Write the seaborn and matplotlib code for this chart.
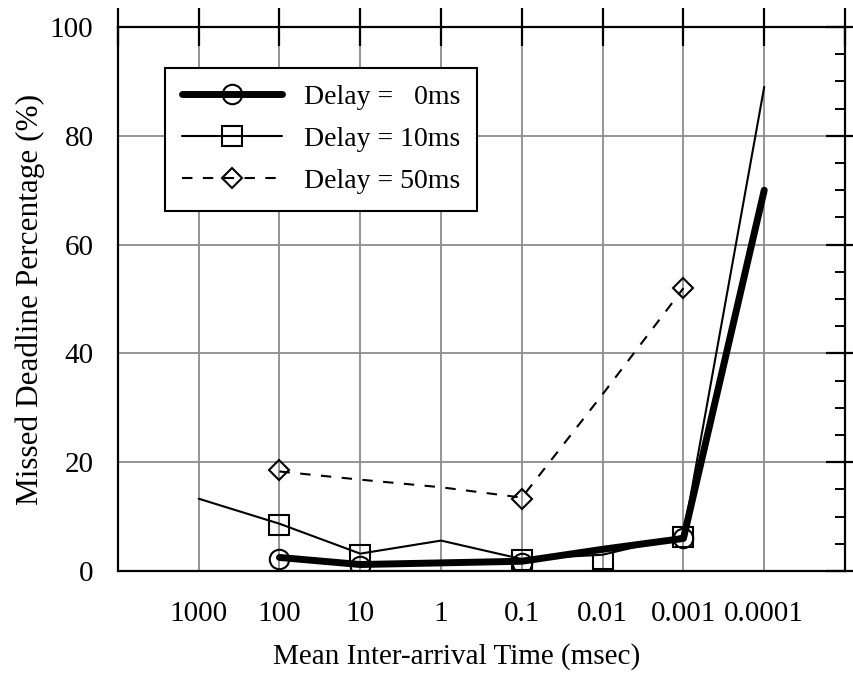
import numpy as np
import pandas as pd
import matplotlib
matplotlib.use('Agg')
import matplotlib.pyplot as plt
from matplotlib.lines import Line2D
from matplotlib.ticker import FixedLocator, MultipleLocator, NullLocator
import seaborn as sns

# x positions (mean inter-arrival time, msec)
x_ticks = [1e4, 1000, 100, 10, 1, 0.1, 0.01, 0.001, 0.0001, 1e-5]
x_labels = ['', '1000', '100', '10', '1', '0.1', '0.01', '0.001', '0.0001', '']

# line values
x_d0 = [100, 10, 1, 0.1, 0.01, 0.001, 0.0001]
y_d0 = [2.5, 1.2, 1.5, 1.8, 4.0, 6.0, 70.0]
x_d10 = [1000, 100, 10, 1, 0.1, 0.01, 0.001, 0.0001]
y_d10 = [13.3, 8.7, 3.2, 5.6, 2.2, 3.0, 6.5, 89.0]
x_d50 = [100, 10, 1, 0.1, 0.01, 0.001]
y_d50 = [18.3, 16.8, 15.4, 13.5, 32.5, 52.0]

# marker values (measured points)
mx_d0 = [100, 10, 0.1, 0.001]
my_d0 = [2.3, 1.0, 1.5, 6.0]
mx_d10 = [100, 10, 0.1, 0.01, 0.001]
my_d10 = [8.5, 3.0, 2.0, 2.3, 6.2]
mx_d50 = [100, 0.1, 0.001]
my_d50 = [18.5, 13.3, 52.0]

labels = ['Delay =   0ms', 'Delay = 10ms', 'Delay = 50ms']

sns.set_style('white')
plt.rcParams['font.family'] = ['Liberation Serif', 'DejaVu Serif']
plt.rcParams['font.size'] = 21
for key in ['text.color', 'axes.labelcolor', 'xtick.color', 'ytick.color']:
    plt.rcParams[key] = 'black'

fig = plt.figure(figsize=(8.54, 6.75), dpi=100)
ax = fig.add_axes([0.138, 0.154, 0.8515, 0.806])

styles = [
    (x_d0, y_d0, mx_d0, my_d0, 'o', 5.0, '-', 14),
    (x_d10, y_d10, mx_d10, my_d10, 's', 1.5, '-', 14),
    (x_d50, y_d50, mx_d50, my_d50, 'D', 1.5, '--', 10),
]

for xs, ys, mxs, mys, mk, lw, ls, ms in styles:
    df = pd.DataFrame({'x': xs, 'y': ys})
    sns.lineplot(data=df, x='x', y='y', ax=ax, color='black', lw=lw,
                 linestyle=ls, sort=False, zorder=3)
    if ls == '--':
        ax.lines[-1].set_dashes([5, 5])
    ax.plot(mxs, mys, linestyle='none', marker=mk, markersize=ms,
            markerfacecolor='none', markeredgecolor='black',
            markeredgewidth=1.5, zorder=4)

ax.set_xscale('log')
ax.set_xlim(1e4, 1e-5)
ax.set_ylim(0, 100)

ax.xaxis.set_major_locator(FixedLocator(x_ticks))
ax.set_xticklabels(x_labels)
ax.xaxis.set_minor_locator(NullLocator())
ax.yaxis.set_major_locator(MultipleLocator(20))
ax.yaxis.set_minor_locator(MultipleLocator(5))

ax.tick_params(which='major', direction='inout', length=27, width=1.6,
               top=True, right=True, labelsize=21, pad=4,
               color='black', labelcolor='black')
ax.tick_params(axis='x', which='major', pad=8)
ax.tick_params(which='minor', direction='in', length=7, width=1.4,
               top=True, right=True, color='black')
ax.tick_params(axis='x', which='minor', length=0)

ax.grid(True, which='major', color='#8c8c8c', lw=1.3, zorder=0)
ax.set_axisbelow(True)
for sp in ax.spines.values():
    sp.set_color('black')
    sp.set_linewidth(1.6)

ax.set_xlabel('Mean Inter-arrival Time (msec)', fontsize=21, color='black')
ax.set_ylabel('Missed Deadline Percentage (%)', fontsize=22.5, color='black')
ax.xaxis.set_label_coords(0.466, -0.132)
ax.yaxis.set_label_coords(-0.100, 0.5)

handles = [
    Line2D([], [], color='black', lw=5.0, marker='o', markersize=14,
           markerfacecolor='none', markeredgewidth=1.5),
    Line2D([], [], color='black', lw=1.5, marker='s', markersize=14,
           markerfacecolor='none', markeredgewidth=1.5),
    Line2D([], [], color='black', lw=1.5, linestyle=(0, (5, 5)), marker='D',
           markersize=10, markerfacecolor='none', markeredgewidth=1.5),
]
leg = ax.legend(handles, labels, loc='upper left', bbox_to_anchor=(0.065, 0.925),
                borderaxespad=0, fontsize=20, handlelength=3.6, labelspacing=0.6,
                fancybox=False, framealpha=1, edgecolor='black',
                borderpad=0.6, handletextpad=0.8)
leg.get_frame().set_linewidth(1.5)
for t in leg.get_texts():
    t.set_color('black')

fig.savefig('out.png', dpi=100)
